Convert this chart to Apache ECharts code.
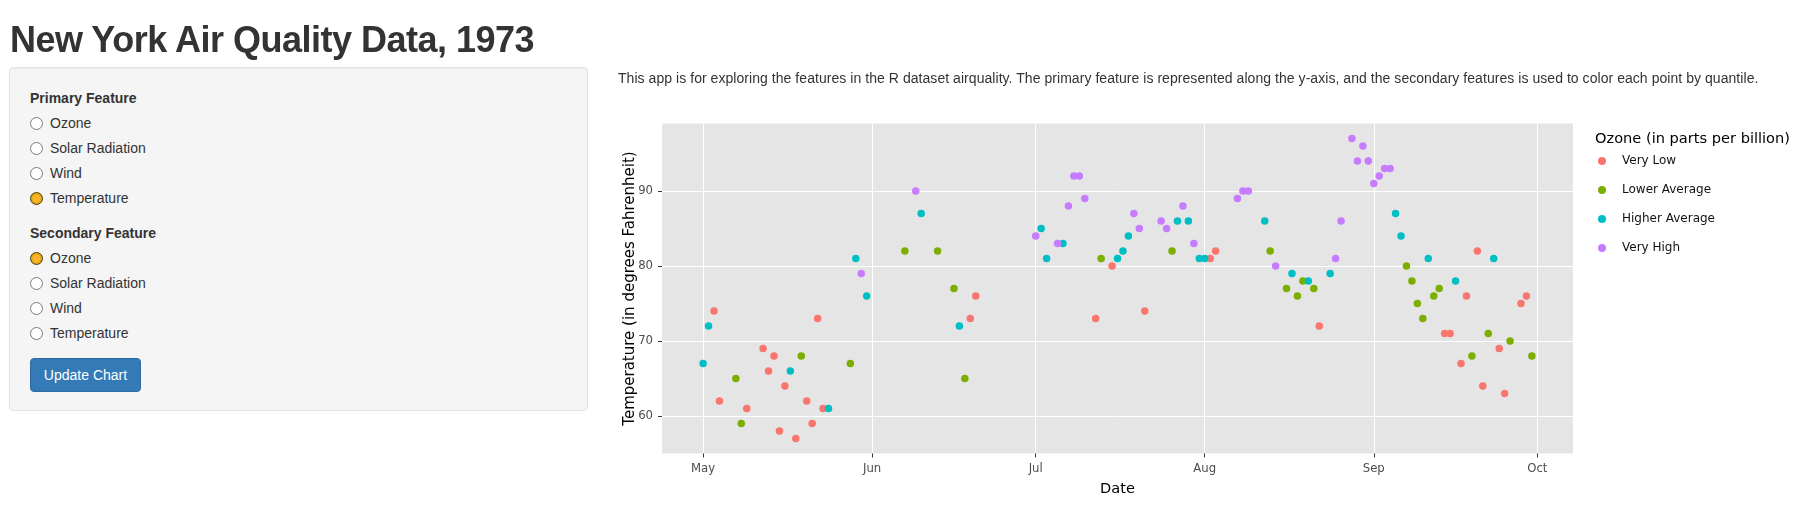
<!DOCTYPE html>
<html>
<head>
<meta charset="utf-8">
<title>New York Air Quality Data, 1973</title>
<script src="https://cdn.jsdelivr.net/npm/echarts@6/dist/echarts.min.js"></script>
<style>
  html, body { margin: 0; padding: 0; background: #fff; }
  body { width: 1813px; height: 522px; position: relative; overflow: hidden;
         font-family: "Liberation Sans", Arial, sans-serif; color: #333; font-size: 14px; }
  #chart { position: absolute; left: 0; top: 0; width: 1813px; height: 522px; }
  .abs { position: absolute; white-space: nowrap; line-height: 20px; }
  h1 { position: absolute; left: 10px; top: 20px; margin: 0; font-size: 36px; line-height: 1.1;
       font-weight: bold; letter-spacing: -0.5px; color: #333; }
  .well { position: absolute; left: 9px; top: 67px; width: 577px; height: 342px;
          background: #f5f5f5; border: 1px solid #e3e3e3; border-radius: 4px;
          box-shadow: inset 0 1px 1px rgba(0,0,0,.05); }
  .lbl { font-weight: bold; }
  .radio { position: absolute; width: 11px; height: 11px; border-radius: 50%;
           border: 1px solid #7a7a7a; background: #fff; }
  .radio.on { border: 1px solid #4a3a10; background: radial-gradient(circle, #f7b52a 0 45%, #eaa313 55%); }
  .btn { position: absolute; left: 30px; top: 358px; width: 109px; height: 32px;
         background: #337ab7; border: 1px solid #2e6da4; border-radius: 4px; color: #fff;
         line-height: 32px; text-align: center; font-size: 14px; }
  .desc { letter-spacing: 0.05px; }
</style>
</head>
<body>
<div id="chart"></div>
<h1>New York Air Quality Data, 1973</h1>
<div class="well"></div>
<div class="abs lbl" style="left:30px;top:88px">Primary Feature</div>
<div class="radio" style="left:30px;top:117px"></div><div class="abs" style="left:50px;top:113px">Ozone</div>
<div class="radio" style="left:30px;top:142px"></div><div class="abs" style="left:50px;top:138px">Solar Radiation</div>
<div class="radio" style="left:30px;top:167px"></div><div class="abs" style="left:50px;top:163px">Wind</div>
<div class="radio on" style="left:30px;top:192px"></div><div class="abs" style="left:50px;top:188px">Temperature</div>
<div class="abs lbl" style="left:30px;top:223px">Secondary Feature</div>
<div class="radio on" style="left:30px;top:252px"></div><div class="abs" style="left:50px;top:248px">Ozone</div>
<div class="radio" style="left:30px;top:277px"></div><div class="abs" style="left:50px;top:273px">Solar Radiation</div>
<div class="radio" style="left:30px;top:302px"></div><div class="abs" style="left:50px;top:298px">Wind</div>
<div class="radio" style="left:30px;top:327px"></div><div class="abs" style="left:50px;top:323px">Temperature</div>
<div class="btn">Update Chart</div>
<div class="abs desc" style="left:618px;top:68px">This app is for exploring the features in the R dataset airquality. The primary feature is represented along the y-axis, and the secondary features is used to color each point by quantile.</div>

<script>
// ozone quartile groups: [date, temperature]
const veryLow = [
  ['1973-05-03', 74], ['1973-05-04', 62], ['1973-05-09', 61], ['1973-05-12', 69], ['1973-05-13', 66],
  ['1973-05-14', 68], ['1973-05-15', 58], ['1973-05-16', 64], ['1973-05-18', 57], ['1973-05-20', 62],
  ['1973-05-21', 59], ['1973-05-22', 73], ['1973-05-23', 61], ['1973-06-19', 73], ['1973-06-20', 76],
  ['1973-07-12', 73], ['1973-07-15', 80], ['1973-07-21', 74], ['1973-08-02', 81], ['1973-08-03', 82],
  ['1973-08-22', 72], ['1973-09-14', 71], ['1973-09-15', 71], ['1973-09-17', 67], ['1973-09-18', 76],
  ['1973-09-20', 82], ['1973-09-21', 64], ['1973-09-24', 69], ['1973-09-25', 63], ['1973-09-28', 75],
  ['1973-09-29', 76]
];
const lowerAverage = [
  ['1973-05-07', 65], ['1973-05-08', 59], ['1973-05-19', 68], ['1973-05-28', 67], ['1973-06-07', 82],
  ['1973-06-13', 82], ['1973-06-16', 77], ['1973-06-18', 65], ['1973-07-13', 81], ['1973-07-26', 82],
  ['1973-08-13', 82], ['1973-08-16', 77], ['1973-08-18', 76], ['1973-08-19', 78], ['1973-08-21', 77],
  ['1973-09-07', 80], ['1973-09-08', 78], ['1973-09-09', 75], ['1973-09-10', 73], ['1973-09-12', 76],
  ['1973-09-13', 77], ['1973-09-19', 68], ['1973-09-22', 71], ['1973-09-26', 70], ['1973-09-30', 68]
];
const higherAverage = [
  ['1973-05-01', 67], ['1973-05-02', 72], ['1973-05-17', 66], ['1973-05-24', 61], ['1973-05-29', 81],
  ['1973-05-31', 76], ['1973-06-10', 87], ['1973-06-17', 72], ['1973-07-02', 85], ['1973-07-03', 81],
  ['1973-07-06', 83], ['1973-07-16', 81], ['1973-07-17', 82], ['1973-07-18', 84], ['1973-07-27', 86],
  ['1973-07-29', 86], ['1973-07-31', 81], ['1973-08-01', 81], ['1973-08-12', 86], ['1973-08-17', 79],
  ['1973-08-20', 78], ['1973-08-24', 79], ['1973-09-05', 87], ['1973-09-06', 84], ['1973-09-11', 81],
  ['1973-09-16', 78], ['1973-09-23', 81]
];
const veryHigh = [
  ['1973-05-30', 79], ['1973-06-09', 90], ['1973-07-01', 84], ['1973-07-05', 83], ['1973-07-07', 88],
  ['1973-07-08', 92], ['1973-07-09', 92], ['1973-07-10', 89], ['1973-07-19', 87], ['1973-07-20', 85],
  ['1973-07-24', 86], ['1973-07-25', 85], ['1973-07-28', 88], ['1973-07-30', 83], ['1973-08-07', 89],
  ['1973-08-08', 90], ['1973-08-09', 90], ['1973-08-14', 80], ['1973-08-25', 81], ['1973-08-26', 86],
  ['1973-08-28', 97], ['1973-08-29', 94], ['1973-08-30', 96], ['1973-08-31', 94], ['1973-09-01', 91],
  ['1973-09-02', 92], ['1973-09-03', 93], ['1973-09-04', 93]
];

const groupNames = ['Very Low', 'Lower Average', 'Higher Average', 'Very High'];
const groupColors = ['#F8766D', '#7CAE00', '#00BFC4', '#C77CFF'];
const monthTicks = ['1973-05-01', '1973-06-01', '1973-07-01', '1973-08-01', '1973-09-01', '1973-10-01'];
const monthLabels = ['May', 'Jun', 'Jul', 'Aug', 'Sep', 'Oct'];
const tempTicks = [60, 70, 80, 90];

const font = '"DejaVu Sans", Verdana, sans-serif';
const toTime = s => { const p = s.split('-'); return new Date(+p[0], +p[1] - 1, +p[2]).getTime(); };
const tickTimes = monthTicks.map(toTime);

const chart = echarts.init(document.getElementById('chart'));
chart.setOption({
  animation: false,
  textStyle: { fontFamily: font },
  title: {
    text: 'Ozone (in parts per billion)',
    left: 1595, top: 132, padding: 0,
    textStyle: { fontSize: 14.6, fontWeight: 'normal', color: '#000', fontFamily: font }
  },
  legend: {
    orient: 'vertical',
    left: 1598, top: 154, padding: 0,
    itemWidth: 30, itemHeight: 8, itemGap: 15,
    icon: 'circle',
    textStyle: { fontSize: 12, color: '#111', fontFamily: font, lineHeight: 14 },
    data: groupNames
  },
  grid: {
    left: 662, right: 240, top: 123.5, bottom: 68.5,
    show: true, backgroundColor: '#e5e5e5', borderWidth: 0
  },
  xAxis: {
    type: 'value',
    min: new Date(1973, 3, 23, 11, 0).getTime(),
    max: new Date(1973, 9, 7, 13, 0).getTime(),
    name: 'Date', nameLocation: 'middle', nameGap: 28,
    nameTextStyle: { fontSize: 14.6, color: '#000' },
    axisLine: { show: false },
    axisTick: { show: true, length: 4, lineStyle: { color: '#333' }, customValues: tickTimes },
    axisLabel: {
      color: '#4d4d4d', fontSize: 11.7, margin: 9, customValues: tickTimes,
      formatter: v => monthLabels[tickTimes.indexOf(v)] || ''
    },
    splitLine: { show: true, lineStyle: { color: '#fff', width: 1 } }
  },
  yAxis: {
    type: 'value', min: 55, max: 99,
    name: 'Temperature (in degrees Fahrenheit)', nameLocation: 'middle', nameGap: 24,
    nameMoveOverlap: false,
    nameTextStyle: { fontSize: 15, color: '#000' },
    axisLine: { show: false },
    axisTick: { show: true, length: 4, lineStyle: { color: '#333' }, customValues: tempTicks },
    axisLabel: { color: '#4d4d4d', fontSize: 11.7, margin: 9, customValues: tempTicks },
    splitLine: { show: true, lineStyle: { color: '#fff', width: 1 } }
  },
  series: [veryLow, lowerAverage, higherAverage, veryHigh].map((d, i) => ({
    name: groupNames[i],
    type: 'scatter',
    data: d.map(p => [toTime(p[0]), p[1]]),
    symbolSize: 7.5,
    itemStyle: { color: groupColors[i], opacity: 1 }
  }))
});
</script>
</body>
</html>
